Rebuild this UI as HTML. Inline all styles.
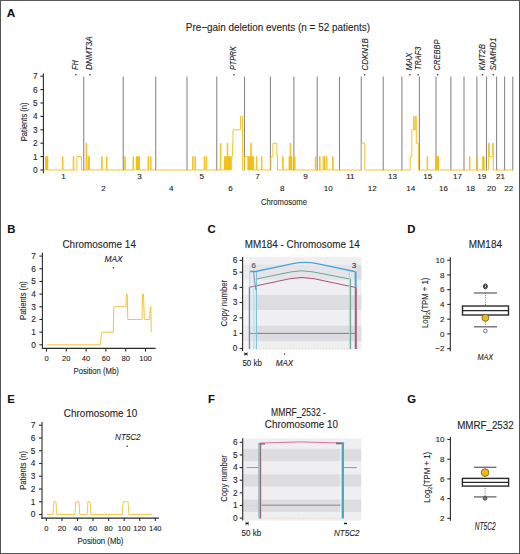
<!DOCTYPE html>
<html><head><meta charset="utf-8">
<style>
html,body{margin:0;padding:0;background:#fff;}
body{width:520px;height:554px;overflow:hidden;}
svg{display:block;font-family:"Liberation Sans", sans-serif;}
</style></head>
<body>
<svg width="520" height="554" viewBox="0 0 520 554">
<rect x="0" y="0" width="520" height="554" fill="#fff"/>
<text x="6.80" y="16.50" font-size="11.8" text-anchor="start" fill="#111" stroke="#111" stroke-width="0.1" font-weight="bold">A</text>
<text x="185.80" y="30.80" font-size="10.4" text-anchor="start" fill="#1e1e1e" stroke="#1e1e1e" stroke-width="0.1" textLength="184.2" lengthAdjust="spacingAndGlyphs">Pre−gain deletion events (n = 52 patients)</text>
<line x1="83.75" y1="76.60" x2="83.75" y2="170.50" stroke="#8a8a8a" stroke-width="1.1"/>
<line x1="123.25" y1="76.60" x2="123.25" y2="170.50" stroke="#8a8a8a" stroke-width="1.1"/>
<line x1="155.75" y1="76.60" x2="155.75" y2="170.50" stroke="#8a8a8a" stroke-width="1.1"/>
<line x1="187.00" y1="76.60" x2="187.00" y2="170.50" stroke="#8a8a8a" stroke-width="1.1"/>
<line x1="216.75" y1="76.60" x2="216.75" y2="170.50" stroke="#8a8a8a" stroke-width="1.1"/>
<line x1="244.50" y1="76.60" x2="244.50" y2="170.50" stroke="#8a8a8a" stroke-width="1.1"/>
<line x1="270.40" y1="76.60" x2="270.40" y2="170.50" stroke="#8a8a8a" stroke-width="1.1"/>
<line x1="293.90" y1="76.60" x2="293.90" y2="170.50" stroke="#8a8a8a" stroke-width="1.1"/>
<line x1="317.20" y1="76.60" x2="317.20" y2="170.50" stroke="#8a8a8a" stroke-width="1.1"/>
<line x1="339.50" y1="76.60" x2="339.50" y2="170.50" stroke="#8a8a8a" stroke-width="1.1"/>
<line x1="361.25" y1="76.60" x2="361.25" y2="170.50" stroke="#8a8a8a" stroke-width="1.1"/>
<line x1="383.25" y1="76.60" x2="383.25" y2="170.50" stroke="#8a8a8a" stroke-width="1.1"/>
<line x1="401.90" y1="76.60" x2="401.90" y2="170.50" stroke="#8a8a8a" stroke-width="1.1"/>
<line x1="419.40" y1="76.60" x2="419.40" y2="170.50" stroke="#8a8a8a" stroke-width="1.1"/>
<line x1="436.00" y1="76.60" x2="436.00" y2="170.50" stroke="#8a8a8a" stroke-width="1.1"/>
<line x1="450.90" y1="76.60" x2="450.90" y2="170.50" stroke="#8a8a8a" stroke-width="1.1"/>
<line x1="464.00" y1="76.60" x2="464.00" y2="170.50" stroke="#8a8a8a" stroke-width="1.1"/>
<line x1="476.90" y1="76.60" x2="476.90" y2="170.50" stroke="#8a8a8a" stroke-width="1.1"/>
<line x1="486.50" y1="76.60" x2="486.50" y2="170.50" stroke="#8a8a8a" stroke-width="1.1"/>
<line x1="496.60" y1="76.60" x2="496.60" y2="170.50" stroke="#8a8a8a" stroke-width="1.1"/>
<line x1="504.60" y1="76.60" x2="504.60" y2="170.50" stroke="#8a8a8a" stroke-width="1.1"/>
<line x1="512.75" y1="76.60" x2="512.75" y2="170.50" stroke="#8a8a8a" stroke-width="1.1"/>
<line x1="43.40" y1="73.60" x2="43.40" y2="173.20" stroke="#2a2a2a" stroke-width="1.1"/>
<line x1="40.40" y1="170.00" x2="43.40" y2="170.00" stroke="#2a2a2a" stroke-width="1.1"/>
<text x="37.60" y="172.90" font-size="8.3" text-anchor="end" fill="#232323" stroke="#232323" stroke-width="0.1">0</text>
<line x1="40.40" y1="156.60" x2="43.40" y2="156.60" stroke="#2a2a2a" stroke-width="1.1"/>
<text x="37.60" y="159.50" font-size="8.3" text-anchor="end" fill="#232323" stroke="#232323" stroke-width="0.1">1</text>
<line x1="40.40" y1="143.20" x2="43.40" y2="143.20" stroke="#2a2a2a" stroke-width="1.1"/>
<text x="37.60" y="146.10" font-size="8.3" text-anchor="end" fill="#232323" stroke="#232323" stroke-width="0.1">2</text>
<line x1="40.40" y1="129.80" x2="43.40" y2="129.80" stroke="#2a2a2a" stroke-width="1.1"/>
<text x="37.60" y="132.70" font-size="8.3" text-anchor="end" fill="#232323" stroke="#232323" stroke-width="0.1">3</text>
<line x1="40.40" y1="116.40" x2="43.40" y2="116.40" stroke="#2a2a2a" stroke-width="1.1"/>
<text x="37.60" y="119.30" font-size="8.3" text-anchor="end" fill="#232323" stroke="#232323" stroke-width="0.1">4</text>
<line x1="40.40" y1="103.00" x2="43.40" y2="103.00" stroke="#2a2a2a" stroke-width="1.1"/>
<text x="37.60" y="105.90" font-size="8.3" text-anchor="end" fill="#232323" stroke="#232323" stroke-width="0.1">5</text>
<line x1="40.40" y1="89.60" x2="43.40" y2="89.60" stroke="#2a2a2a" stroke-width="1.1"/>
<text x="37.60" y="92.50" font-size="8.3" text-anchor="end" fill="#232323" stroke="#232323" stroke-width="0.1">6</text>
<line x1="40.40" y1="76.20" x2="43.40" y2="76.20" stroke="#2a2a2a" stroke-width="1.1"/>
<text x="37.60" y="79.10" font-size="8.3" text-anchor="end" fill="#232323" stroke="#232323" stroke-width="0.1">7</text>
<text x="27.20" y="121.80" font-size="8.8" text-anchor="middle" fill="#262626" stroke="#262626" stroke-width="0.1" textLength="38.8" lengthAdjust="spacingAndGlyphs" transform="rotate(-90 27.20 121.80)">Patients (n)</text>
<text x="63.58" y="179.30" font-size="8.1" text-anchor="middle" fill="#232323" stroke="#232323" stroke-width="0.1">1</text>
<text x="103.50" y="191.40" font-size="8.1" text-anchor="middle" fill="#232323" stroke="#232323" stroke-width="0.1">2</text>
<text x="139.50" y="179.30" font-size="8.1" text-anchor="middle" fill="#232323" stroke="#232323" stroke-width="0.1">3</text>
<text x="171.38" y="191.40" font-size="8.1" text-anchor="middle" fill="#232323" stroke="#232323" stroke-width="0.1">4</text>
<text x="201.88" y="179.30" font-size="8.1" text-anchor="middle" fill="#232323" stroke="#232323" stroke-width="0.1">5</text>
<text x="230.62" y="191.40" font-size="8.1" text-anchor="middle" fill="#232323" stroke="#232323" stroke-width="0.1">6</text>
<text x="257.45" y="179.30" font-size="8.1" text-anchor="middle" fill="#232323" stroke="#232323" stroke-width="0.1">7</text>
<text x="282.15" y="191.40" font-size="8.1" text-anchor="middle" fill="#232323" stroke="#232323" stroke-width="0.1">8</text>
<text x="305.55" y="179.30" font-size="8.1" text-anchor="middle" fill="#232323" stroke="#232323" stroke-width="0.1">9</text>
<text x="328.35" y="191.40" font-size="8.1" text-anchor="middle" fill="#232323" stroke="#232323" stroke-width="0.1">10</text>
<text x="350.38" y="179.30" font-size="8.1" text-anchor="middle" fill="#232323" stroke="#232323" stroke-width="0.1">11</text>
<text x="372.25" y="191.40" font-size="8.1" text-anchor="middle" fill="#232323" stroke="#232323" stroke-width="0.1">12</text>
<text x="392.57" y="179.30" font-size="8.1" text-anchor="middle" fill="#232323" stroke="#232323" stroke-width="0.1">13</text>
<text x="410.65" y="191.40" font-size="8.1" text-anchor="middle" fill="#232323" stroke="#232323" stroke-width="0.1">14</text>
<text x="427.70" y="179.30" font-size="8.1" text-anchor="middle" fill="#232323" stroke="#232323" stroke-width="0.1">15</text>
<text x="443.45" y="191.40" font-size="8.1" text-anchor="middle" fill="#232323" stroke="#232323" stroke-width="0.1">16</text>
<text x="457.45" y="179.30" font-size="8.1" text-anchor="middle" fill="#232323" stroke="#232323" stroke-width="0.1">17</text>
<text x="470.45" y="191.40" font-size="8.1" text-anchor="middle" fill="#232323" stroke="#232323" stroke-width="0.1">18</text>
<text x="481.70" y="179.30" font-size="8.1" text-anchor="middle" fill="#232323" stroke="#232323" stroke-width="0.1">19</text>
<text x="491.55" y="191.40" font-size="8.1" text-anchor="middle" fill="#232323" stroke="#232323" stroke-width="0.1">20</text>
<text x="500.60" y="179.30" font-size="8.1" text-anchor="middle" fill="#232323" stroke="#232323" stroke-width="0.1">21</text>
<text x="508.68" y="191.40" font-size="8.1" text-anchor="middle" fill="#232323" stroke="#232323" stroke-width="0.1">22</text>
<text x="284.00" y="205.40" font-size="9.4" text-anchor="middle" fill="#262626" stroke="#262626" stroke-width="0.1" textLength="45.9" lengthAdjust="spacingAndGlyphs">Chromosome</text>
<text x="77.80" y="69.90" font-size="8.6" text-anchor="start" fill="#222" stroke="#222" stroke-width="0.1" font-style="italic" textLength="9.6" lengthAdjust="spacingAndGlyphs" transform="rotate(-90 77.80 69.90)">FH</text>
<circle cx="75.90" cy="74.8" r="0.75" fill="#222"/>
<text x="91.70" y="69.90" font-size="8.6" text-anchor="start" fill="#222" stroke="#222" stroke-width="0.1" font-style="italic" textLength="33.6" lengthAdjust="spacingAndGlyphs" transform="rotate(-90 91.70 69.90)">DNMT3A</text>
<circle cx="90.00" cy="74.8" r="0.75" fill="#222"/>
<text x="236.30" y="69.90" font-size="8.6" text-anchor="start" fill="#222" stroke="#222" stroke-width="0.1" font-style="italic" textLength="23.6" lengthAdjust="spacingAndGlyphs" transform="rotate(-90 236.30 69.90)">PTPRK</text>
<circle cx="234.00" cy="74.8" r="0.75" fill="#222"/>
<text x="367.60" y="70.40" font-size="8.6" text-anchor="start" fill="#222" stroke="#222" stroke-width="0.1" font-style="italic" textLength="32.2" lengthAdjust="spacingAndGlyphs" transform="rotate(-90 367.60 70.40)">CDKN1B</text>
<circle cx="364.70" cy="74.8" r="0.75" fill="#222"/>
<text x="412.30" y="70.40" font-size="8.6" text-anchor="start" fill="#222" stroke="#222" stroke-width="0.1" font-style="italic" textLength="17.8" lengthAdjust="spacingAndGlyphs" transform="rotate(-90 412.30 70.40)">MAX</text>
<circle cx="409.90" cy="74.8" r="0.75" fill="#222"/>
<text x="420.80" y="69.90" font-size="8.6" text-anchor="start" fill="#222" stroke="#222" stroke-width="0.1" font-style="italic" textLength="23.1" lengthAdjust="spacingAndGlyphs" transform="rotate(-90 420.80 69.90)">TRAF3</text>
<circle cx="418.10" cy="74.8" r="0.75" fill="#222"/>
<text x="440.20" y="70.40" font-size="8.6" text-anchor="start" fill="#222" stroke="#222" stroke-width="0.1" font-style="italic" textLength="30.8" lengthAdjust="spacingAndGlyphs" transform="rotate(-90 440.20 70.40)">CREBBP</text>
<circle cx="437.80" cy="74.8" r="0.75" fill="#222"/>
<text x="485.20" y="70.40" font-size="8.6" text-anchor="start" fill="#222" stroke="#222" stroke-width="0.1" font-style="italic" textLength="26.4" lengthAdjust="spacingAndGlyphs" transform="rotate(-90 485.20 70.40)">KMT2B</text>
<circle cx="482.60" cy="74.8" r="0.75" fill="#222"/>
<text x="495.80" y="70.40" font-size="8.6" text-anchor="start" fill="#222" stroke="#222" stroke-width="0.1" font-style="italic" textLength="32.7" lengthAdjust="spacingAndGlyphs" transform="rotate(-90 495.80 70.40)">SAMHD1</text>
<circle cx="493.20" cy="74.8" r="0.75" fill="#222"/>
<path d="M43.6 170.00H45.66V156.60H46.01V170.00H46.53V156.60H46.88V170.00H47.39V156.60H47.74V170.00H62.40V156.60H63.00V170.00H73.20V156.60H73.80V170.00H76.90V156.60H81.40V170.00H86.10V143.20H86.70V170.00H88.08V156.60H88.42V170.00H88.97V156.60H89.32V170.00H101.60V156.60H102.20V170.00H106.45V156.60H107.05V170.00H124.70V156.60H125.30V170.00H133.00V156.60H133.60V170.00H136.49V156.60H136.84V170.00H137.33V156.60H137.68V170.00H138.17V156.60H138.52V170.00H139.01V156.60H139.36V170.00H148.00V156.60H148.60V170.00H150.40V156.60H151.00V170.00H192.60V156.60H193.20V170.00H194.90V156.60H195.50V170.00H204.10V156.60H204.70V170.00H206.10V156.60H206.70V170.00H220.30V143.20H220.90V170.00H224.42V156.60H224.78V170.00H225.42V156.60H225.78V170.00H226.42V156.60H226.78V170.00H227.20V143.20H227.80V170.00H228.21V156.60H228.56V170.00H229.18V156.60H229.53V170.00H230.14V156.60H230.49V170.00H231.40V156.60H232.40V143.20H233.00V129.80H240.60V116.40H242.60V170.00H244.40V156.60H247.80V170.00H248.42V156.60H248.78V170.00H249.22V156.60H249.57V170.00H250.02V156.60H250.38V170.00H250.70V143.20H251.30V170.00H251.62V156.60H251.98V170.00H252.43V156.60H252.78V170.00H253.22V156.60H253.58V170.00H256.40V156.60H257.00V170.00H261.40V156.60H262.00V170.00H270.90V156.60H272.90V143.20H276.90V156.60H277.50V170.00H282.60V156.60H283.20V170.00H289.07V156.60H289.43V170.00H289.57V156.60H289.93V170.00H290.10V143.20H290.70V170.00H290.93V156.60H291.28V170.00H291.52V156.60H291.88V170.00H294.50V156.60H295.10V170.00H315.30V156.60H315.90V170.00H319.50V156.60H320.10V170.00H323.10V156.60H323.90V170.00H324.35V156.60H324.85V170.00H326.20V156.60H327.00V170.00H332.60V156.60H333.20V170.00H361.50V143.20H364.80V170.00H410.20V156.60H411.80V129.80H413.70V116.40H414.10V129.80H415.30V116.40H416.30V143.20H418.40V170.00H427.10V156.60H427.70V170.00H436.52V156.60H436.88V170.00H437.32V156.60H437.68V170.00H438.12V156.60H438.48V170.00H469.40V156.60H470.00V170.00H477.00V156.60H477.60V170.00H482.77V156.60H483.12V170.00H483.68V156.60H484.03V170.00H488.60V143.20H489.30V156.60H492.70V143.20H493.30V170.00H513" fill="none" stroke="#F3BE12" stroke-width="0.9" stroke-linejoin="miter"/>
<rect x="45.40" y="156.60" width="2.60" height="13.40" fill="#F3BE12" fill-opacity="0.4"/>
<rect x="87.80" y="156.60" width="1.80" height="13.40" fill="#F3BE12" fill-opacity="0.4"/>
<rect x="136.25" y="156.60" width="3.35" height="13.40" fill="#F3BE12" fill-opacity="0.4"/>
<rect x="227.90" y="156.60" width="2.90" height="13.40" fill="#F3BE12" fill-opacity="0.4"/>
<rect x="248.20" y="156.60" width="2.40" height="13.40" fill="#F3BE12" fill-opacity="0.4"/>
<rect x="251.40" y="156.60" width="2.40" height="13.40" fill="#F3BE12" fill-opacity="0.4"/>
<rect x="289.00" y="156.60" width="1.00" height="13.40" fill="#F3BE12" fill-opacity="0.4"/>
<rect x="290.80" y="156.60" width="1.20" height="13.40" fill="#F3BE12" fill-opacity="0.4"/>
<rect x="436.30" y="156.60" width="2.40" height="13.40" fill="#F3BE12" fill-opacity="0.4"/>
<rect x="482.50" y="156.60" width="1.80" height="13.40" fill="#F3BE12" fill-opacity="0.4"/>
<text x="7.30" y="233.40" font-size="11.3" text-anchor="start" fill="#111" stroke="#111" stroke-width="0.1" font-weight="bold">B</text>
<text x="99.20" y="247.50" font-size="10.2" text-anchor="middle" fill="#1e1e1e" stroke="#1e1e1e" stroke-width="0.1" textLength="73.5" lengthAdjust="spacingAndGlyphs">Chromosome 14</text>
<line x1="42.40" y1="252.80" x2="42.40" y2="348.90" stroke="#2a2a2a" stroke-width="1.1"/>
<line x1="41.90" y1="348.40" x2="155.60" y2="348.40" stroke="#2a2a2a" stroke-width="1.1"/>
<line x1="39.40" y1="344.80" x2="42.40" y2="344.80" stroke="#2a2a2a" stroke-width="1.1"/>
<text x="35.80" y="347.70" font-size="8.3" text-anchor="end" fill="#232323" stroke="#232323" stroke-width="0.1">0</text>
<line x1="39.40" y1="332.13" x2="42.40" y2="332.13" stroke="#2a2a2a" stroke-width="1.1"/>
<text x="35.80" y="335.03" font-size="8.3" text-anchor="end" fill="#232323" stroke="#232323" stroke-width="0.1">1</text>
<line x1="39.40" y1="319.46" x2="42.40" y2="319.46" stroke="#2a2a2a" stroke-width="1.1"/>
<text x="35.80" y="322.36" font-size="8.3" text-anchor="end" fill="#232323" stroke="#232323" stroke-width="0.1">2</text>
<line x1="39.40" y1="306.79" x2="42.40" y2="306.79" stroke="#2a2a2a" stroke-width="1.1"/>
<text x="35.80" y="309.69" font-size="8.3" text-anchor="end" fill="#232323" stroke="#232323" stroke-width="0.1">3</text>
<line x1="39.40" y1="294.12" x2="42.40" y2="294.12" stroke="#2a2a2a" stroke-width="1.1"/>
<text x="35.80" y="297.02" font-size="8.3" text-anchor="end" fill="#232323" stroke="#232323" stroke-width="0.1">4</text>
<line x1="39.40" y1="281.45" x2="42.40" y2="281.45" stroke="#2a2a2a" stroke-width="1.1"/>
<text x="35.80" y="284.35" font-size="8.3" text-anchor="end" fill="#232323" stroke="#232323" stroke-width="0.1">5</text>
<line x1="39.40" y1="268.78" x2="42.40" y2="268.78" stroke="#2a2a2a" stroke-width="1.1"/>
<text x="35.80" y="271.68" font-size="8.3" text-anchor="end" fill="#232323" stroke="#232323" stroke-width="0.1">6</text>
<line x1="39.40" y1="256.11" x2="42.40" y2="256.11" stroke="#2a2a2a" stroke-width="1.1"/>
<text x="35.80" y="259.01" font-size="8.3" text-anchor="end" fill="#232323" stroke="#232323" stroke-width="0.1">7</text>
<line x1="46.50" y1="348.40" x2="46.50" y2="351.60" stroke="#2a2a2a" stroke-width="1.1"/>
<text x="46.50" y="361.20" font-size="7.6" text-anchor="middle" fill="#232323" stroke="#232323" stroke-width="0.1">0</text>
<line x1="66.30" y1="348.40" x2="66.30" y2="351.60" stroke="#2a2a2a" stroke-width="1.1"/>
<text x="66.30" y="361.20" font-size="7.6" text-anchor="middle" fill="#232323" stroke="#232323" stroke-width="0.1">20</text>
<line x1="86.10" y1="348.40" x2="86.10" y2="351.60" stroke="#2a2a2a" stroke-width="1.1"/>
<text x="86.10" y="361.20" font-size="7.6" text-anchor="middle" fill="#232323" stroke="#232323" stroke-width="0.1">40</text>
<line x1="105.90" y1="348.40" x2="105.90" y2="351.60" stroke="#2a2a2a" stroke-width="1.1"/>
<text x="105.90" y="361.20" font-size="7.6" text-anchor="middle" fill="#232323" stroke="#232323" stroke-width="0.1">60</text>
<line x1="125.70" y1="348.40" x2="125.70" y2="351.60" stroke="#2a2a2a" stroke-width="1.1"/>
<text x="125.70" y="361.20" font-size="7.6" text-anchor="middle" fill="#232323" stroke="#232323" stroke-width="0.1">80</text>
<line x1="145.50" y1="348.40" x2="145.50" y2="351.60" stroke="#2a2a2a" stroke-width="1.1"/>
<text x="145.50" y="361.20" font-size="7.6" text-anchor="middle" fill="#232323" stroke="#232323" stroke-width="0.1">100</text>
<text x="96.20" y="374.20" font-size="9.0" text-anchor="middle" fill="#262626" stroke="#262626" stroke-width="0.1" textLength="45.4" lengthAdjust="spacingAndGlyphs">Position (Mb)</text>
<text x="26.30" y="300.50" font-size="8.8" text-anchor="middle" fill="#262626" stroke="#262626" stroke-width="0.1" textLength="38.8" lengthAdjust="spacingAndGlyphs" transform="rotate(-90 26.30 300.50)">Patients (n)</text>
<text x="113.50" y="262.30" font-size="8.7" text-anchor="middle" fill="#1e1e1e" stroke="#1e1e1e" stroke-width="0.1" font-style="italic" textLength="18.2" lengthAdjust="spacingAndGlyphs">MAX</text>
<circle cx="113.4" cy="267.8" r="0.75" fill="#222"/>
<path d="M46.9 344.80 H100.3 L101.6 332.13 H113.2 L113.8 306.79 H126.0 L126.4 294.12 L127.2 294.12 L127.8 319.46 H142.0 L142.6 294.12 L143.5 294.12 L144.3 319.46 H149.6 L150.3 306.79 L150.9 306.79 L151.2 332.13" fill="none" stroke="#F2C53A" stroke-width="1.0"/>
<text x="7.30" y="403.00" font-size="11.3" text-anchor="start" fill="#111" stroke="#111" stroke-width="0.1" font-weight="bold">E</text>
<text x="100.60" y="417.00" font-size="10.2" text-anchor="middle" fill="#1e1e1e" stroke="#1e1e1e" stroke-width="0.1" textLength="73.5" lengthAdjust="spacingAndGlyphs">Chromosome 10</text>
<line x1="42.00" y1="422.00" x2="42.00" y2="518.80" stroke="#2a2a2a" stroke-width="1.1"/>
<line x1="41.50" y1="518.10" x2="158.90" y2="518.10" stroke="#2a2a2a" stroke-width="1.1"/>
<line x1="39.00" y1="514.50" x2="42.00" y2="514.50" stroke="#2a2a2a" stroke-width="1.1"/>
<text x="35.40" y="517.40" font-size="8.3" text-anchor="end" fill="#232323" stroke="#232323" stroke-width="0.1">0</text>
<line x1="39.00" y1="501.75" x2="42.00" y2="501.75" stroke="#2a2a2a" stroke-width="1.1"/>
<text x="35.40" y="504.65" font-size="8.3" text-anchor="end" fill="#232323" stroke="#232323" stroke-width="0.1">1</text>
<line x1="39.00" y1="489.00" x2="42.00" y2="489.00" stroke="#2a2a2a" stroke-width="1.1"/>
<text x="35.40" y="491.90" font-size="8.3" text-anchor="end" fill="#232323" stroke="#232323" stroke-width="0.1">2</text>
<line x1="39.00" y1="476.25" x2="42.00" y2="476.25" stroke="#2a2a2a" stroke-width="1.1"/>
<text x="35.40" y="479.15" font-size="8.3" text-anchor="end" fill="#232323" stroke="#232323" stroke-width="0.1">3</text>
<line x1="39.00" y1="463.50" x2="42.00" y2="463.50" stroke="#2a2a2a" stroke-width="1.1"/>
<text x="35.40" y="466.40" font-size="8.3" text-anchor="end" fill="#232323" stroke="#232323" stroke-width="0.1">4</text>
<line x1="39.00" y1="450.75" x2="42.00" y2="450.75" stroke="#2a2a2a" stroke-width="1.1"/>
<text x="35.40" y="453.65" font-size="8.3" text-anchor="end" fill="#232323" stroke="#232323" stroke-width="0.1">5</text>
<line x1="39.00" y1="438.00" x2="42.00" y2="438.00" stroke="#2a2a2a" stroke-width="1.1"/>
<text x="35.40" y="440.90" font-size="8.3" text-anchor="end" fill="#232323" stroke="#232323" stroke-width="0.1">6</text>
<line x1="39.00" y1="425.25" x2="42.00" y2="425.25" stroke="#2a2a2a" stroke-width="1.1"/>
<text x="35.40" y="428.15" font-size="8.3" text-anchor="end" fill="#232323" stroke="#232323" stroke-width="0.1">7</text>
<line x1="46.40" y1="518.10" x2="46.40" y2="521.00" stroke="#2a2a2a" stroke-width="1.1"/>
<text x="46.40" y="530.90" font-size="7.6" text-anchor="middle" fill="#232323" stroke="#232323" stroke-width="0.1">0</text>
<line x1="61.95" y1="518.10" x2="61.95" y2="521.00" stroke="#2a2a2a" stroke-width="1.1"/>
<text x="61.95" y="530.90" font-size="7.6" text-anchor="middle" fill="#232323" stroke="#232323" stroke-width="0.1">20</text>
<line x1="77.50" y1="518.10" x2="77.50" y2="521.00" stroke="#2a2a2a" stroke-width="1.1"/>
<text x="77.50" y="530.90" font-size="7.6" text-anchor="middle" fill="#232323" stroke="#232323" stroke-width="0.1">40</text>
<line x1="93.05" y1="518.10" x2="93.05" y2="521.00" stroke="#2a2a2a" stroke-width="1.1"/>
<text x="93.05" y="530.90" font-size="7.6" text-anchor="middle" fill="#232323" stroke="#232323" stroke-width="0.1">60</text>
<line x1="108.60" y1="518.10" x2="108.60" y2="521.00" stroke="#2a2a2a" stroke-width="1.1"/>
<text x="108.60" y="530.90" font-size="7.6" text-anchor="middle" fill="#232323" stroke="#232323" stroke-width="0.1">80</text>
<line x1="124.15" y1="518.10" x2="124.15" y2="521.00" stroke="#2a2a2a" stroke-width="1.1"/>
<text x="124.15" y="530.90" font-size="7.6" text-anchor="middle" fill="#232323" stroke="#232323" stroke-width="0.1">100</text>
<line x1="139.70" y1="518.10" x2="139.70" y2="521.00" stroke="#2a2a2a" stroke-width="1.1"/>
<text x="139.70" y="530.90" font-size="7.6" text-anchor="middle" fill="#232323" stroke="#232323" stroke-width="0.1">120</text>
<line x1="155.25" y1="518.10" x2="155.25" y2="521.00" stroke="#2a2a2a" stroke-width="1.1"/>
<text x="155.25" y="530.90" font-size="7.6" text-anchor="middle" fill="#232323" stroke="#232323" stroke-width="0.1">140</text>
<text x="100.40" y="544.20" font-size="9.0" text-anchor="middle" fill="#262626" stroke="#262626" stroke-width="0.1" textLength="46.0" lengthAdjust="spacingAndGlyphs">Position (Mb)</text>
<text x="25.90" y="470.40" font-size="8.8" text-anchor="middle" fill="#262626" stroke="#262626" stroke-width="0.1" textLength="38.8" lengthAdjust="spacingAndGlyphs" transform="rotate(-90 25.90 470.40)">Patients (n)</text>
<text x="127.80" y="439.90" font-size="8.7" text-anchor="middle" fill="#1e1e1e" stroke="#1e1e1e" stroke-width="0.1" font-style="italic" textLength="25.4" lengthAdjust="spacingAndGlyphs">NT5C2</text>
<circle cx="127.2" cy="446.3" r="0.75" fill="#222"/>
<path d="M46.9 514.50H53.00L53.80 501.75H56.00L56.80 514.50H75.00L75.80 501.75H79.00L79.80 514.50H87.10L87.90 501.75H90.10L90.90 514.50H122.30L123.10 501.75H128.10L128.90 514.50H151.9" fill="none" stroke="#F2C94A" stroke-width="1.0"/>
<text x="207.60" y="232.90" font-size="11.3" text-anchor="start" fill="#111" stroke="#111" stroke-width="0.1" font-weight="bold">C</text>
<text x="302.20" y="247.70" font-size="10.2" text-anchor="middle" fill="#1e1e1e" stroke="#1e1e1e" stroke-width="0.1" textLength="114.9" lengthAdjust="spacingAndGlyphs">MM184 - Chromosome 14</text>
<rect x="243.00" y="256.80" width="118.40" height="7.80" fill="#efeef1"/>
<rect x="243.00" y="264.60" width="118.40" height="15.20" fill="#dddce0"/>
<rect x="243.00" y="279.80" width="118.40" height="15.20" fill="#efeef1"/>
<rect x="243.00" y="295.00" width="118.40" height="15.20" fill="#dddce0"/>
<rect x="243.00" y="310.20" width="118.40" height="15.40" fill="#efeef1"/>
<rect x="243.00" y="325.60" width="118.40" height="15.40" fill="#dddce0"/>
<rect x="243.00" y="341.00" width="118.40" height="8.60" fill="#efeef1"/>
<rect x="249.50" y="264.60" width="106.00" height="15.20" fill="#f4eef4" fill-opacity="0.45"/>
<rect x="243.00" y="256.80" width="6.00" height="92.80" fill="#ffffff" fill-opacity="0.45"/>
<rect x="249.50" y="271.50" width="6.50" height="77.50" fill="#e6f3f8" fill-opacity="0.55"/>
<line x1="249.50" y1="333.40" x2="355.00" y2="333.40" stroke="#777777" stroke-width="0.9"/>
<line x1="257.00" y1="349.00" x2="350.00" y2="349.00" stroke="#f0d890" stroke-width="0.8" stroke-dasharray="1 2"/>
<path d="M249.8 271.5 H255.6 L293 263.6 Q305 261.1 317 263.6 L354.8 271.5" fill="none" stroke="#4aa6d6" stroke-width="1.3"/>
<path d="M255.8 279.2 L291 271.9 Q302 269.6 313 271.9 L350.6 279.2" fill="none" stroke="#5fae8c" stroke-width="1.0"/>
<path d="M249.3 287.3 L290 278.7 Q302 276.2 314 278.7 L355.7 287.5" fill="none" stroke="#b0507a" stroke-width="1.0"/>
<line x1="249.90" y1="271.50" x2="249.90" y2="349.00" stroke="#9fd3ea" stroke-width="0.9"/>
<line x1="249.30" y1="287.30" x2="249.30" y2="349.00" stroke="#9a5a80" stroke-width="1.0"/>
<line x1="253.80" y1="272.00" x2="253.80" y2="349.00" stroke="#a9d9ec" stroke-width="0.9"/>
<line x1="256.40" y1="271.80" x2="256.40" y2="349.00" stroke="#6fbfdc" stroke-width="1.0"/>
<line x1="253.60" y1="271.80" x2="255.80" y2="290.00" stroke="#7a6a8a" stroke-width="0.7"/>
<line x1="349.40" y1="271.20" x2="349.40" y2="349.00" stroke="#b9c9d2" stroke-width="0.8"/>
<line x1="350.60" y1="279.20" x2="350.60" y2="349.00" stroke="#5fae8c" stroke-width="1.0"/>
<line x1="355.60" y1="271.50" x2="355.60" y2="288.00" stroke="#4aa6d6" stroke-width="2.0"/>
<line x1="355.80" y1="287.50" x2="355.80" y2="349.00" stroke="#a25b82" stroke-width="2.0"/>
<line x1="242.60" y1="257.00" x2="242.60" y2="351.00" stroke="#2a2a2a" stroke-width="1.1"/>
<line x1="239.60" y1="348.50" x2="242.60" y2="348.50" stroke="#2a2a2a" stroke-width="1.1"/>
<text x="237.40" y="351.40" font-size="8.3" text-anchor="end" fill="#232323" stroke="#232323" stroke-width="0.1">0</text>
<line x1="239.60" y1="333.40" x2="242.60" y2="333.40" stroke="#2a2a2a" stroke-width="1.1"/>
<text x="237.40" y="336.30" font-size="8.3" text-anchor="end" fill="#232323" stroke="#232323" stroke-width="0.1">1</text>
<line x1="239.60" y1="317.90" x2="242.60" y2="317.90" stroke="#2a2a2a" stroke-width="1.1"/>
<text x="237.40" y="320.80" font-size="8.3" text-anchor="end" fill="#232323" stroke="#232323" stroke-width="0.1">2</text>
<line x1="239.60" y1="302.50" x2="242.60" y2="302.50" stroke="#2a2a2a" stroke-width="1.1"/>
<text x="237.40" y="305.40" font-size="8.3" text-anchor="end" fill="#232323" stroke="#232323" stroke-width="0.1">3</text>
<line x1="239.60" y1="287.40" x2="242.60" y2="287.40" stroke="#2a2a2a" stroke-width="1.1"/>
<text x="237.40" y="290.30" font-size="8.3" text-anchor="end" fill="#232323" stroke="#232323" stroke-width="0.1">4</text>
<line x1="239.60" y1="272.20" x2="242.60" y2="272.20" stroke="#2a2a2a" stroke-width="1.1"/>
<text x="237.40" y="275.10" font-size="8.3" text-anchor="end" fill="#232323" stroke="#232323" stroke-width="0.1">5</text>
<line x1="239.60" y1="260.40" x2="242.60" y2="260.40" stroke="#2a2a2a" stroke-width="1.1"/>
<text x="237.40" y="263.30" font-size="8.3" text-anchor="end" fill="#232323" stroke="#232323" stroke-width="0.1">6</text>
<text x="227.00" y="303.10" font-size="8.6" text-anchor="middle" fill="#262626" stroke="#262626" stroke-width="0.1" textLength="46.6" lengthAdjust="spacingAndGlyphs" transform="rotate(-90 227.00 303.10)">Copy number</text>
<text x="253.70" y="267.80" font-size="7.9" text-anchor="middle" fill="#444444" stroke="#444444" stroke-width="0.1">6</text>
<text x="354.00" y="267.90" font-size="8.1" text-anchor="middle" fill="#2a2a2a" stroke="#2a2a2a" stroke-width="0.1">3</text>
<line x1="244.60" y1="352.00" x2="244.60" y2="356.00" stroke="#777" stroke-width="0.7"/>
<line x1="247.20" y1="352.00" x2="247.20" y2="356.00" stroke="#777" stroke-width="0.7"/>
<line x1="244.60" y1="354.00" x2="247.20" y2="354.00" stroke="#111" stroke-width="1.7"/>
<text x="252.20" y="366.20" font-size="8.2" text-anchor="middle" fill="#232323" stroke="#232323" stroke-width="0.1" textLength="19.6" lengthAdjust="spacingAndGlyphs">50 kb</text>
<circle cx="284.5" cy="354.0" r="0.7" fill="#222"/>
<text x="284.50" y="366.20" font-size="8.2" text-anchor="middle" fill="#222" stroke="#222" stroke-width="0.1" font-style="italic" textLength="17.5" lengthAdjust="spacingAndGlyphs">MAX</text>
<text x="207.90" y="402.70" font-size="11.3" text-anchor="start" fill="#111" stroke="#111" stroke-width="0.1" font-weight="bold">F</text>
<text x="298.50" y="416.00" font-size="10.2" text-anchor="middle" fill="#1e1e1e" stroke="#1e1e1e" stroke-width="0.1" textLength="54.8" lengthAdjust="spacingAndGlyphs">MMRF_2532 -</text>
<text x="301.40" y="428.10" font-size="10.2" text-anchor="middle" fill="#1e1e1e" stroke="#1e1e1e" stroke-width="0.1" textLength="73.1" lengthAdjust="spacingAndGlyphs">Chromosome 10</text>
<rect x="243.00" y="438.30" width="118.30" height="10.60" fill="#efeef1"/>
<rect x="243.00" y="448.90" width="118.30" height="12.60" fill="#dddce0"/>
<rect x="243.00" y="461.50" width="118.30" height="12.70" fill="#efeef1"/>
<rect x="243.00" y="474.20" width="118.30" height="12.60" fill="#dddce0"/>
<rect x="243.00" y="486.80" width="118.30" height="12.60" fill="#efeef1"/>
<rect x="243.00" y="499.40" width="118.30" height="12.70" fill="#dddce0"/>
<rect x="243.00" y="512.10" width="118.30" height="8.50" fill="#efeef1"/>
<line x1="246.60" y1="467.58" x2="258.40" y2="467.58" stroke="#8a8a98" stroke-width="0.9"/>
<line x1="344.00" y1="467.58" x2="356.90" y2="467.58" stroke="#8a8a98" stroke-width="0.9"/>
<line x1="243.50" y1="505.47" x2="259.00" y2="505.47" stroke="#e6c8a0" stroke-width="0.8" stroke-dasharray="1 1.5"/>
<line x1="260.50" y1="505.17" x2="341.50" y2="505.17" stroke="#7c7c80" stroke-width="0.9"/>
<line x1="261.00" y1="518.40" x2="341.00" y2="518.40" stroke="#f0c8a0" stroke-width="0.8" stroke-dasharray="1 1.8"/>
<rect x="340.20" y="444.00" width="1.40" height="74.40" fill="#ffffff" fill-opacity="0.7"/>
<path d="M259.6 443.1 Q300.5 440.7 342.5 443.1" fill="none" stroke="#d8709a" stroke-width="1.0"/>
<line x1="258.40" y1="443.90" x2="265.00" y2="443.90" stroke="#7a7080" stroke-width="1.4"/>
<line x1="336.00" y1="443.40" x2="344.10" y2="443.40" stroke="#6a7078" stroke-width="1.8"/>
<line x1="259.00" y1="443.50" x2="259.00" y2="518.40" stroke="#86bcb8" stroke-width="1.4"/>
<line x1="260.40" y1="443.50" x2="260.40" y2="518.40" stroke="#94607e" stroke-width="1.1"/>
<line x1="261.50" y1="445.00" x2="261.50" y2="518.40" stroke="#f4b0c8" stroke-width="0.6"/>
<line x1="342.80" y1="442.60" x2="342.80" y2="518.40" stroke="#4eaab8" stroke-width="2.4"/>
<line x1="242.70" y1="438.20" x2="242.70" y2="520.50" stroke="#2a2a2a" stroke-width="1.1"/>
<line x1="239.70" y1="518.10" x2="242.70" y2="518.10" stroke="#2a2a2a" stroke-width="1.1"/>
<text x="237.50" y="521.00" font-size="8.3" text-anchor="end" fill="#232323" stroke="#232323" stroke-width="0.1">0</text>
<line x1="239.70" y1="505.47" x2="242.70" y2="505.47" stroke="#2a2a2a" stroke-width="1.1"/>
<text x="237.50" y="508.37" font-size="8.3" text-anchor="end" fill="#232323" stroke="#232323" stroke-width="0.1">1</text>
<line x1="239.70" y1="492.84" x2="242.70" y2="492.84" stroke="#2a2a2a" stroke-width="1.1"/>
<text x="237.50" y="495.74" font-size="8.3" text-anchor="end" fill="#232323" stroke="#232323" stroke-width="0.1">2</text>
<line x1="239.70" y1="480.21" x2="242.70" y2="480.21" stroke="#2a2a2a" stroke-width="1.1"/>
<text x="237.50" y="483.11" font-size="8.3" text-anchor="end" fill="#232323" stroke="#232323" stroke-width="0.1">3</text>
<line x1="239.70" y1="467.58" x2="242.70" y2="467.58" stroke="#2a2a2a" stroke-width="1.1"/>
<text x="237.50" y="470.48" font-size="8.3" text-anchor="end" fill="#232323" stroke="#232323" stroke-width="0.1">4</text>
<line x1="239.70" y1="454.95" x2="242.70" y2="454.95" stroke="#2a2a2a" stroke-width="1.1"/>
<text x="237.50" y="457.85" font-size="8.3" text-anchor="end" fill="#232323" stroke="#232323" stroke-width="0.1">5</text>
<line x1="239.70" y1="442.32" x2="242.70" y2="442.32" stroke="#2a2a2a" stroke-width="1.1"/>
<text x="237.50" y="445.22" font-size="8.3" text-anchor="end" fill="#232323" stroke="#232323" stroke-width="0.1">6</text>
<text x="227.00" y="478.50" font-size="8.6" text-anchor="middle" fill="#262626" stroke="#262626" stroke-width="0.1" textLength="46.6" lengthAdjust="spacingAndGlyphs" transform="rotate(-90 227.00 478.50)">Copy number</text>
<line x1="245.80" y1="521.40" x2="245.80" y2="525.50" stroke="#777" stroke-width="0.7"/>
<line x1="248.40" y1="521.40" x2="248.40" y2="525.50" stroke="#777" stroke-width="0.7"/>
<line x1="245.80" y1="523.40" x2="248.40" y2="523.40" stroke="#111" stroke-width="1.7"/>
<text x="251.30" y="536.40" font-size="8.2" text-anchor="middle" fill="#232323" stroke="#232323" stroke-width="0.1" textLength="19.6" lengthAdjust="spacingAndGlyphs">50 kb</text>
<line x1="343.90" y1="523.50" x2="347.00" y2="523.50" stroke="#111" stroke-width="1.4"/>
<text x="346.70" y="536.20" font-size="8.2" text-anchor="middle" fill="#222" stroke="#222" stroke-width="0.1" font-style="italic" textLength="25.4" lengthAdjust="spacingAndGlyphs">NT5C2</text>
<text x="407.30" y="232.60" font-size="11.3" text-anchor="start" fill="#111" stroke="#111" stroke-width="0.1" font-weight="bold">D</text>
<text x="485.40" y="247.50" font-size="10.2" text-anchor="middle" fill="#1e1e1e" stroke="#1e1e1e" stroke-width="0.1" textLength="33.1" lengthAdjust="spacingAndGlyphs">MM184</text>
<line x1="450.30" y1="257.30" x2="450.30" y2="351.20" stroke="#2a2a2a" stroke-width="1.1"/>
<line x1="447.20" y1="260.20" x2="450.30" y2="260.20" stroke="#2a2a2a" stroke-width="1.1"/>
<text x="444.40" y="263.00" font-size="8.1" text-anchor="end" fill="#232323" stroke="#232323" stroke-width="0.1">10</text>
<line x1="447.20" y1="274.94" x2="450.30" y2="274.94" stroke="#2a2a2a" stroke-width="1.1"/>
<text x="444.40" y="277.74" font-size="8.1" text-anchor="end" fill="#232323" stroke="#232323" stroke-width="0.1">8</text>
<line x1="447.20" y1="289.68" x2="450.30" y2="289.68" stroke="#2a2a2a" stroke-width="1.1"/>
<text x="444.40" y="292.48" font-size="8.1" text-anchor="end" fill="#232323" stroke="#232323" stroke-width="0.1">6</text>
<line x1="447.20" y1="304.42" x2="450.30" y2="304.42" stroke="#2a2a2a" stroke-width="1.1"/>
<text x="444.40" y="307.22" font-size="8.1" text-anchor="end" fill="#232323" stroke="#232323" stroke-width="0.1">4</text>
<line x1="447.20" y1="319.16" x2="450.30" y2="319.16" stroke="#2a2a2a" stroke-width="1.1"/>
<text x="444.40" y="321.96" font-size="8.1" text-anchor="end" fill="#232323" stroke="#232323" stroke-width="0.1">2</text>
<line x1="447.20" y1="333.90" x2="450.30" y2="333.90" stroke="#2a2a2a" stroke-width="1.1"/>
<text x="444.40" y="336.70" font-size="8.1" text-anchor="end" fill="#232323" stroke="#232323" stroke-width="0.1">0</text>
<line x1="447.20" y1="348.64" x2="450.30" y2="348.64" stroke="#2a2a2a" stroke-width="1.1"/>
<text x="444.40" y="351.44" font-size="8.1" text-anchor="end" fill="#232323" stroke="#232323" stroke-width="0.1">−2</text>
<text x="428.40" y="302.80" font-size="8.2" text-anchor="middle" fill="#232323" stroke="#232323" stroke-width="0.1" textLength="50.4" lengthAdjust="spacingAndGlyphs" transform="rotate(-90 428.40 302.80)">Log<tspan font-size="5.5" dy="1.8">2</tspan><tspan dy="-1.8">(TPM + 1)</tspan></text>
<line x1="485.40" y1="293.00" x2="485.40" y2="306.00" stroke="#555" stroke-width="0.8" stroke-dasharray="1 1.2"/>
<line x1="485.40" y1="315.00" x2="485.40" y2="326.80" stroke="#555" stroke-width="0.8" stroke-dasharray="1 1.2"/>
<line x1="473.90" y1="293.00" x2="497.00" y2="293.00" stroke="#666" stroke-width="1.3"/>
<line x1="473.90" y1="326.80" x2="497.00" y2="326.80" stroke="#666" stroke-width="1.3"/>
<rect x="462.5" y="306.0" width="46.0" height="9.0" fill="#fff" stroke="#2a2a2a" stroke-width="1.4"/>
<line x1="462.50" y1="310.60" x2="508.50" y2="310.60" stroke="#2a2a2a" stroke-width="1.4"/>
<circle cx="485.4" cy="285.7" r="1.75" fill="none" stroke="#1a1a1a" stroke-width="1.0"/>
<circle cx="485.4" cy="287.0" r="1.75" fill="none" stroke="#1a1a1a" stroke-width="1.0"/>
<circle cx="485.4" cy="330.9" r="1.8" fill="none" stroke="#555" stroke-width="0.8"/>
<circle cx="485.4" cy="317.8" r="3.5" fill="#F0B914" stroke="#5a4a20" stroke-width="0.7"/>
<text x="485.30" y="359.70" font-size="9.6" text-anchor="middle" fill="#232323" stroke="#232323" stroke-width="0.1" font-style="italic" textLength="15.7" lengthAdjust="spacingAndGlyphs">MAX</text>
<text x="407.30" y="402.60" font-size="11.3" text-anchor="start" fill="#111" stroke="#111" stroke-width="0.1" font-weight="bold">G</text>
<text x="485.40" y="428.60" font-size="10.2" text-anchor="middle" fill="#1e1e1e" stroke="#1e1e1e" stroke-width="0.1" textLength="56.5" lengthAdjust="spacingAndGlyphs">MMRF_2532</text>
<line x1="450.40" y1="437.00" x2="450.40" y2="520.80" stroke="#2a2a2a" stroke-width="1.1"/>
<line x1="447.30" y1="439.50" x2="450.40" y2="439.50" stroke="#2a2a2a" stroke-width="1.1"/>
<text x="444.50" y="442.30" font-size="8.1" text-anchor="end" fill="#232323" stroke="#232323" stroke-width="0.1">10</text>
<line x1="447.30" y1="459.20" x2="450.40" y2="459.20" stroke="#2a2a2a" stroke-width="1.1"/>
<text x="444.50" y="462.00" font-size="8.1" text-anchor="end" fill="#232323" stroke="#232323" stroke-width="0.1">8</text>
<line x1="447.30" y1="478.90" x2="450.40" y2="478.90" stroke="#2a2a2a" stroke-width="1.1"/>
<text x="444.50" y="481.70" font-size="8.1" text-anchor="end" fill="#232323" stroke="#232323" stroke-width="0.1">6</text>
<line x1="447.30" y1="498.60" x2="450.40" y2="498.60" stroke="#2a2a2a" stroke-width="1.1"/>
<text x="444.50" y="501.40" font-size="8.1" text-anchor="end" fill="#232323" stroke="#232323" stroke-width="0.1">4</text>
<line x1="447.30" y1="518.30" x2="450.40" y2="518.30" stroke="#2a2a2a" stroke-width="1.1"/>
<text x="444.50" y="521.10" font-size="8.1" text-anchor="end" fill="#232323" stroke="#232323" stroke-width="0.1">2</text>
<text x="430.00" y="477.30" font-size="8.2" text-anchor="middle" fill="#232323" stroke="#232323" stroke-width="0.1" textLength="50.8" lengthAdjust="spacingAndGlyphs" transform="rotate(-90 430.00 477.30)">Log<tspan font-size="5.5" dy="1.8">2</tspan><tspan dy="-1.8">(TPM + 1)</tspan></text>
<line x1="485.10" y1="486.10" x2="485.10" y2="496.90" stroke="#555" stroke-width="0.8" stroke-dasharray="1 1.2"/>
<line x1="485.10" y1="467.30" x2="485.10" y2="478.40" stroke="#555" stroke-width="0.8" stroke-dasharray="1 1.2"/>
<line x1="474.00" y1="467.30" x2="496.40" y2="467.30" stroke="#666" stroke-width="1.3"/>
<line x1="474.00" y1="496.90" x2="496.40" y2="496.90" stroke="#666" stroke-width="1.3"/>
<rect x="462.4" y="478.4" width="46.2" height="7.7" fill="#fff" stroke="#2a2a2a" stroke-width="1.4"/>
<line x1="462.40" y1="482.40" x2="508.60" y2="482.40" stroke="#2a2a2a" stroke-width="1.4"/>
<circle cx="485.1" cy="498.4" r="1.8" fill="#888" stroke="#333" stroke-width="0.9"/>
<circle cx="485.1" cy="472.6" r="3.8" fill="#F0B914" stroke="#5a4a20" stroke-width="0.7"/>
<text x="485.20" y="530.00" font-size="10.3" text-anchor="middle" fill="#232323" stroke="#232323" stroke-width="0.1" font-style="italic" textLength="20.9" lengthAdjust="spacingAndGlyphs">NT5C2</text>
<rect x="0.5" y="0.5" width="519" height="553" fill="none" stroke="#555" stroke-width="1"/>
</svg>
</body></html>
